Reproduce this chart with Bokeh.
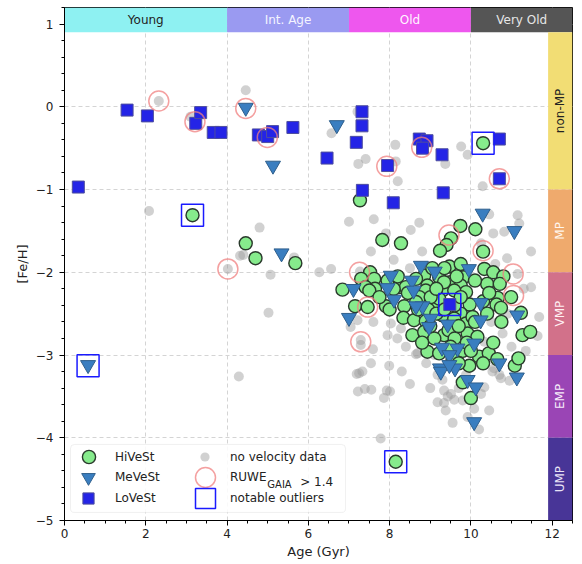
import numpy as np
from bokeh.plotting import figure
from bokeh.models import Range1d, FixedTicker, Legend, LegendItem, BoxAnnotation, Label
from bokeh.core.properties import value
from bokeh.embed import file_html
from bokeh.resources import INLINE

# ---------------- data ----------------
hi_age = [3.15, 4.46, 4.70, 5.68, 10.30, 8.15, 7.27,
          7.82, 8.28, 9.74, 10.11, 9.51, 9.40, 9.24, 10.30,
          9.47, 9.75, 10.33, 10.55, 10.80, 7.52, 7.30, 7.62, 8.85, 8.65, 9.22, 9.49, 9.82, 10.40, 10.71,
          6.84, 7.41, 7.64, 7.50, 8.23, 8.40, 8.93, 9.30, 9.75, 9.88, 9.59, 8.89, 9.34,
          10.99, 10.66, 10.63, 7.15, 7.46, 7.91, 8.36, 9.06, 9.97, 8.73, 9.22, 9.01, 8.65, 10.74,
          8.34, 8.60, 8.89, 9.75, 9.88, 9.30, 9.59, 10.04, 11.23,
          8.56, 8.85, 9.34, 9.92, 10.16, 11.27, 11.46,
          8.93, 9.22, 10.20, 10.44, 9.96, 11.08, 11.17, 9.80, 10.00,
          8.70, 8.95, 9.15, 9.60, 9.75, 9.15, 9.45, 9.60, 9.10, 9.70, 9.00, 9.35, 8.80, 9.50, 9.80,
          10.10, 10.40, 10.30, 8.45, 8.10, 8.00, 7.75, 7.95, 8.20, 9.65, 10.10, 9.05, 9.35, 9.90,
          10.00, 9.55, 9.70, 10.30, 10.55, 10.65, 10.45, 10.75]
hi_feh = [-1.31, -1.65, -1.83, -1.89, -0.44, -4.29, -1.13,
          -1.61, -1.65, -1.44, -1.48, -1.59, -1.67, -1.74, -1.75,
          -1.93, -1.90, -1.96, -2.00, -2.05, -2.00, -2.08, -2.08, -2.04, -2.08, -2.06, -2.12, -2.06, -2.14, -2.14,
          -2.21, -2.18, -2.20, -2.22, -2.18, -2.18, -2.16, -2.22, -2.16, -2.24, -2.22, -2.22, -2.12,
          -2.30, -2.31, -2.39, -2.41, -2.42, -2.41, -2.41, -2.38, -2.39, -2.30, -2.32, -2.30, -2.36, -2.43,
          -2.55, -2.58, -2.59, -2.50, -2.62, -2.52, -2.56, -2.54, -2.49,
          -2.76, -2.72, -2.76, -2.74, -2.78, -2.76, -2.72,
          -2.96, -2.98, -3.02, -2.98, -3.13, -3.13, -3.04, -3.33, -3.52,
          -2.45, -2.45, -2.50, -2.40, -2.30, -2.20, -2.70, -2.80, -2.80, -2.65, -2.65, -2.45, -2.85, -2.90, -2.95,
          -2.60, -2.50, -2.35, -2.25, -2.20, -2.45, -2.30, -2.10, -2.05, -2.05, -2.10, -1.95, -1.95, -2.85,
          -2.95, -3.05, -3.10, -3.10, -2.85, -3.05, -2.25, -2.60]

me_age = [0.58, 4.46, 5.13, 6.70, 5.34, 10.29, 11.07, 8.77, 9.11, 9.95, 8.03, 8.55, 7.11, 7.95,
          8.59, 8.11, 8.81, 8.65, 10.24, 7.00, 9.01, 10.24, 11.14, 8.97, 9.43, 10.08, 9.29, 9.67,
          9.47, 10.70, 9.24, 9.61, 11.13, 9.92, 10.12, 10.08, 9.26, 9.47]
me_feh = [-3.12, -0.01, -0.71, -0.22, -1.77, -1.29, -1.50, -1.92, -1.99, -1.96, -2.04, -2.10, -2.20, -2.19,
          -2.22, -2.33, -2.41, -2.41, -2.37, -2.55, -2.56, -2.58, -2.52, -2.66, -2.63, -2.86, -2.91, -2.92,
          -3.00, -3.10, -3.16, -3.16, -3.27, -3.30, -3.39, -3.81, -3.20, -3.12]

lo_age = [0.34, 1.54, 2.04, 3.23, 3.35, 3.66, 3.85, 4.77, 5.00, 5.12, 5.62, 6.46, 7.32, 7.32,
          7.18, 7.33, 7.95, 8.09, 8.73, 8.92, 8.81, 9.29, 9.32, 10.70, 10.70, 9.48]
lo_feh = [-0.97, -0.04, -0.11, -0.20, -0.07, -0.31, -0.31, -0.34, -0.36, -0.30, -0.25, -0.62, -0.06, -0.23,
          -0.43, -1.01, -0.71, -1.16, -0.39, -0.41, -0.50, -0.58, -1.04, -0.39, -0.87, -2.39]

nov_age = [2.32, 4.46, 3.10, 2.08, 4.80, 4.32, 4.40, 4.02, 5.07, 5.02, 4.29, 5.65, 6.27, 6.56, 6.57, 7.00,
           7.21, 8.14, 7.41, 7.23, 8.15, 8.20, 9.37, 9.76, 9.92, 10.29, 11.15, 10.45, 8.73, 7.61, 7.91,
           8.52, 7.54, 10.25, 10.55, 10.82, 10.89, 11.19, 11.48, 11.15, 11.48, 11.68, 11.64, 7.21, 7.95,
           8.19, 8.69, 7.54, 7.99, 7.25, 10.78, 10.74, 9.88, 10.33, 10.57, 7.04, 7.29, 7.29, 7.59, 8.03,
           8.28, 7.33, 7.19, 7.22, 7.39, 7.55, 7.93, 8.01, 7.86, 7.78, 8.65, 8.77, 9.18, 9.18, 10.53,
           10.70, 10.95, 10.45, 9.55, 9.38, 9.59, 9.43, 9.51, 9.34, 9.30, 9.92, 10.08, 10.25, 10.33, 9.34,
           7.27, 7.47, 8.40, 8.90, 9.10, 9.70, 10.00, 10.50, 10.90, 11.30, 8.50, 8.10, 11.00, 7.60, 8.30,
           8.50, 9.80, 10.20, 9.00, 8.80, 10.60, 11.35]
nov_feh = [0.07, 0.20, -0.12, -1.26, -1.46, -1.80, -1.79, -1.96, -2.03, -2.49, -3.26, -1.82, -2.00, -1.96, -0.32, -1.39,
           -0.06, -0.46, -0.63, -0.69, -0.66, -0.90, -0.69, -0.48, -0.58, -0.96, -1.31, -1.30, -1.40, -1.36, -1.53,
           -1.49, -1.75, -1.65, -1.53, -1.51, -1.83, -1.41, -1.75, -2.02, -2.18, -2.54, -2.77, -2.58, -2.76,
           -2.80, -2.98, -3.10, -3.13, -3.22, -2.74, -3.28, -3.24, -2.84, -3.16, -2.66, -2.82, -2.88, -2.93, -2.62,
           -2.68, -3.20, -3.23, -3.44, -3.41, -3.42, -3.43, -3.44, -3.52, -4.01, -2.99, -2.88, -3.24, -3.57, -3.20,
           -3.24, -3.31, -3.67, -3.82, -3.67, -3.54, -3.50, -3.47, -3.43, -3.30, -3.75, -3.65, -3.47, -3.39, -3.58,
           -1.99, -2.42, -2.90, -3.10, -3.00, -3.40, -3.15, -2.60, -2.50, -2.20, -1.95, -1.85, -2.90, -2.60, -3.20,
           -3.35, -3.55, -3.90, -3.40, -1.75, -1.90, -2.95]

ruwe_age = [2.32, 3.21, 4.46, 4.99, 8.79, 7.93, 10.70, 4.02, 9.46, 10.30, 7.26, 11.04, 7.46, 7.29, 11.05]
ruwe_feh = [0.07, -0.18, -0.02, -0.37, -0.49, -0.72, -0.87, -1.96, -1.55, -1.74, -2.00, -2.02, -2.42, -2.84, -2.28]

out_age = [3.15, 0.58, 10.30, 9.48, 8.15]
out_feh = [-1.31, -3.13, -0.44, -2.39, -4.29]

age_edges = [0, 4, 7, 10, 12.5]
age_names = ["Young", "Int. Age", "Old", "Very Old"]
age_colors = ["#8EF1F2", "#9A9AF1", "#EE57EE", "#555555"]
age_text_colors = ["#222222", "#F4F4FF", "#FFF4FF", "#E6E6E6"]

feh_edges = [0.9, -1, -2, -3, -4, -5]
feh_names = ["non-MP", "MP", "VMP", "EMP", "UMP"]
feh_colors = ["#F2DD74", "#EFAA6D", "#D2718A", "#9A45B5", "#483597"]
feh_text_colors = ["#222222", "#FFF6EE", "#FFEFF3", "#F6ECFA", "#E8E4F6"]

x_ticks = [0, 2, 4, 6, 8, 10, 12]
y_ticks = [-5, -4, -3, -2, -1, 0, 1]

# ---------------- layout constants ----------------
X_MAX, Y_MIN, Y_MAX = 12.5, -5, 1.2
BAND_Y0 = 0.9
BAND_X0 = 11.9
FONT = "DejaVu Sans"

p = figure(width=582, height=564, x_range=Range1d(0, X_MAX), y_range=Range1d(Y_MIN, Y_MAX),
           output_backend="svg", toolbar_location=None,
           min_border_left=64, min_border_right=10, min_border_top=7, min_border_bottom=44)
p.outline_line_color = "black"
p.outline_line_width = 1
p.background_fill_color = "white"
p.border_fill_color = "white"

p.xaxis.ticker = FixedTicker(ticks=x_ticks, minor_ticks=list(np.arange(0, 12.51, 0.5)))
p.yaxis.ticker = FixedTicker(ticks=y_ticks, minor_ticks=list(np.round(np.arange(-5, 1.21, 0.2), 2)))
p.yaxis.major_label_overrides = {t: ("\u2212" + str(abs(t)) if t < 0 else str(t)) for t in y_ticks}
for ax in (p.xaxis, p.yaxis):
    ax.axis_line_color = "black"
    ax.major_tick_line_color = "black"
    ax.minor_tick_line_color = "black"
    ax.major_tick_out = 5
    ax.major_tick_in = 0
    ax.minor_tick_out = 3
    ax.minor_tick_in = 0
    ax.major_label_text_font = FONT
    ax.major_label_text_font_size = "12px"
    ax.major_label_text_color = "#222222"
    ax.axis_label_text_font = FONT
    ax.axis_label_text_font_size = "13px"
    ax.axis_label_text_font_style = "normal"
    ax.axis_label_text_color = "#222222"
p.xaxis.axis_label = "Age (Gyr)"
p.yaxis.axis_label = "[Fe/H]"
p.xaxis.major_label_standoff = 3
p.xaxis.axis_label_standoff = 3
p.yaxis.major_label_standoff = 6
p.yaxis.axis_label_standoff = 3

p.xgrid.ticker = FixedTicker(ticks=x_ticks)
p.ygrid.ticker = FixedTicker(ticks=y_ticks)
p.grid.grid_line_color = "#d4d4d4"
p.grid.grid_line_dash = "4 3"
p.grid.grid_line_width = 1

# ---------------- data marks ----------------
r_nov = p.scatter(nov_age, nov_feh, marker="circle", size=10, fill_color="#9a9a9a", fill_alpha=0.45,
                  line_color=None)
r_hi = p.scatter(hi_age, hi_feh, marker="circle", size=13, fill_color="#86EB8C", line_color="#2A3A2C",
                 line_width=1.4)
r_me = p.scatter(me_age, me_feh, marker="inverted_triangle", size=15, fill_color="#3A7EC0",
                 line_color="#2F5F8C", line_width=1)
r_lo = p.scatter(lo_age, lo_feh, marker="square", size=12, fill_color="#2424E6", line_color="#4E4E9E",
                 line_width=1)
r_ruwe = p.scatter(ruwe_age, ruwe_feh, marker="circle", size=20, fill_color=None, line_color="#F08080",
                   line_alpha=0.75, line_width=1.5)
r_out = p.scatter(out_age, out_feh, marker="square", size=22, fill_color=None, line_color="#1A1AFF",
                  line_width=1.5)

# ---------------- category bands ----------------
p.quad(left=age_edges[:-1], right=age_edges[1:], bottom=BAND_Y0, top=Y_MAX, fill_color=age_colors,
       line_color=None)
age_mid = [(a + b) / 2 for a, b in zip(age_edges[:-1], age_edges[1:])]
p.text(x=age_mid, y=(BAND_Y0 + Y_MAX) / 2, text=age_names, text_color=age_text_colors,
       text_align="center", text_baseline="middle", text_font=value(FONT), text_font_size="12px")

p.quad(left=BAND_X0, right=X_MAX, bottom=feh_edges[1:], top=feh_edges[:-1], fill_color=feh_colors,
       line_color=None)
feh_mid = [(a + b) / 2 for a, b in zip(feh_edges[:-1], feh_edges[1:])]
p.text(x=(BAND_X0 + X_MAX) / 2, y=feh_mid, text=feh_names, text_color=feh_text_colors, angle=np.pi / 2,
       text_align="center", text_baseline="middle", text_font=value(FONT), text_font_size="12px")

# ---------------- legend ----------------
box = BoxAnnotation(left=0.148, right=6.915, bottom=-4.903, top=-4.081, fill_color="white",
                    fill_alpha=0.85, line_color="#cccccc", line_width=1, border_radius=4)
p.add_layout(box)


def add_leg(label, rend, loc, g, standoff):
    leg = Legend(items=[LegendItem(label=label, renderers=[rend])], location=loc,
                 glyph_width=g, glyph_height=g, label_standoff=standoff, label_height=10,
                 padding=0, margin=0, spacing=0, background_fill_alpha=0, border_line_alpha=0,
                 label_text_font=FONT, label_text_font_size="12px", label_text_color="#222222")
    p.add_layout(leg)


add_leg("HiVeSt", r_hi, (8, 47), 33, 10)
add_leg("MeVeSt", r_me, (7, 26), 34, 10)
add_leg("LoVeSt", r_lo, (10, 8), 28, 13)
add_leg("no velocity data", r_nov, (129, 52), 23, 14)
add_leg("RUWE", r_ruwe, (116, 18), 50, 0)
add_leg("notable outliers", r_out, (116, -3), 50, 0)

p.add_layout(Label(x=4.99, y=-4.562, text="GAIA", text_font=FONT, text_font_size="10px",
                   text_color="#222222", text_baseline="alphabetic"))
p.add_layout(Label(x=5.80, y=-4.532, text="> 1.4", text_font=FONT, text_font_size="12px",
                   text_color="#222222", text_baseline="alphabetic"))

open("out.html", "w").write(file_html(p, INLINE))
